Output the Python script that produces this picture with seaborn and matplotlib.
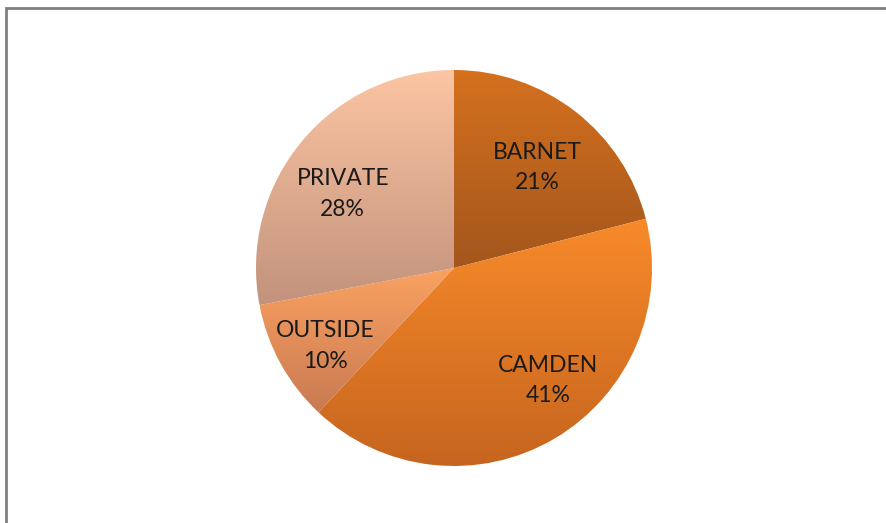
import numpy as np
import matplotlib
matplotlib.use("Agg")
import matplotlib.pyplot as plt
import seaborn as sns
from matplotlib.colors import LinearSegmentedColormap
from matplotlib.patches import Rectangle

# data
labels = ["BARNET", "CAMDEN", "OUTSIDE", "PRIVATE"]
shares = [21, 41, 10, 28]
top_colors = ["#D5711F", "#F88A2A", "#FBA262", "#FCC5A3"]
bottom_colors = ["#A3561C", "#C6651F", "#C97A52", "#C2927C"]

sns.set_theme(style="white")
plt.rcParams["font.family"] = ["Lato", "DejaVu Sans"]

W, H = 887, 523
fig = plt.figure(figsize=(W / 100, H / 100), dpi=100, facecolor="white")

# pie centre / radius in pixels
cx, cy, r = 454, 255, 198
ax = fig.add_axes([(cx - r) / W, (cy - r) / H, 2 * r / W, 2 * r / H])

wedges, texts = ax.pie(shares, labels=[f"{l}\n{s}%" for l, s in zip(labels, shares)],
                       startangle=90, counterclock=False, labeldistance=0.7,
                       textprops=dict(fontsize=16.5, color="#1a1a1a",
                                      ha="center", va="center", linespacing=1.55),
                       wedgeprops=dict(linewidth=0))
ax.set_aspect("equal")
ax.axis("off")

# vertical gradient fill per slice, clipped to the wedge
for w, c_top, c_bot in zip(wedges, top_colors, bottom_colors):
    ext = w.get_path().get_extents()
    cmap = LinearSegmentedColormap.from_list("g", [c_bot, c_top])
    grad = np.linspace(0, 1, 256).reshape(-1, 1)
    im = ax.imshow(grad, cmap=cmap, origin="lower", aspect="auto",
                   extent=[ext.x0, ext.x1, ext.y0, ext.y1], zorder=1)
    im.set_clip_path(w)
    w.set_facecolor("none")
    w.set_zorder(2)
ax.set_xlim(-1, 1)
ax.set_ylim(-1, 1)

# label placement like the Excel "best fit" (distance, angle nudge)
dist = [0.66, 0.74, 0.76, 0.675]
nudge = [-1.9, 9.2, 2.4, 5.9]
for t, w, d, dn in zip(texts, wedges, dist, nudge):
    ang = np.deg2rad((w.theta1 + w.theta2) / 2 + dn)
    t.set_position((d * np.cos(ang), d * np.sin(ang)))
    t.set_zorder(3)

# chart frame (cut off on right and bottom)
fig.add_artist(Rectangle((6 / W, -0.05), 1.0, 1 - 8 / H + 0.05,
                         transform=fig.transFigure, fill=False,
                         edgecolor="#7f7f7f", linewidth=2))

fig.savefig("out.png", dpi=100, facecolor="white")
